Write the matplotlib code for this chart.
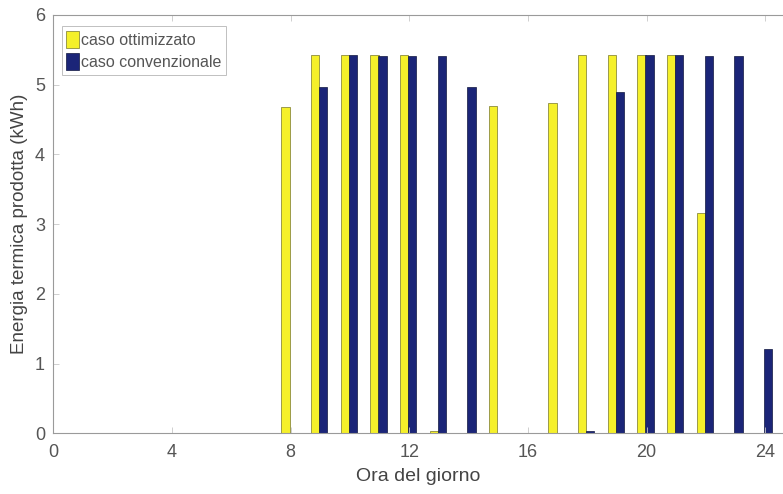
import numpy as np
import matplotlib.pyplot as plt

# --- dati ---
ore = list(range(1, 25))
ottimizzato = [0, 0, 0, 0, 0, 0, 0, 4.68, 5.42, 5.42, 5.42, 5.42, 0.03, 0, 4.69, 0,
               4.73, 5.42, 5.42, 5.42, 5.42, 3.16, 0, 0]
convenzionale = [0, 0, 0, 0, 0, 0, 0, 0, 4.96, 5.42, 5.41, 5.41, 5.41, 4.96, 0, 0,
                 0, 0.03, 4.89, 5.43, 5.42, 5.41, 5.41, 1.21]
xticks = [0, 4, 8, 12, 16, 20, 24]
yticks = [0, 1, 2, 3, 4, 5, 6]

plt.rcParams['font.family'] = ['Liberation Sans', 'DejaVu Sans']

fig = plt.figure(figsize=(7.83, 4.94), dpi=100)
ax = fig.add_axes([0.068, 0.123, 0.932, 0.847])

x = np.array(ore)
w = 0.29
ax.bar(x - 0.17, ottimizzato, width=w, color='#f5f02a', edgecolor='#77762a',
       linewidth=0.5, label='caso ottimizzato')
ax.bar(x + 0.10, convenzionale, width=w, color='#1b2578', edgecolor='#10163f',
       linewidth=0.5, label='caso convenzionale')

ax.set_xlim(0, 24.6)
ax.set_ylim(0, 6)
ax.set_xticks(xticks)
ax.set_yticks(yticks)
ax.tick_params(direction='in', length=4, width=0.6, colors='#c8c8c8',
               labelcolor='#555555', labelsize=13, top=True, right=False)
ax.tick_params(axis='x', pad=8)
ax.tick_params(axis='y', pad=6)
ax.spines['right'].set_visible(False)
for s in ['left', 'bottom', 'top']:
    ax.spines[s].set_color('#9a9a9a')
    ax.spines[s].set_linewidth(0.8)

ax.set_xlabel('Ora del giorno', fontsize=14, color='#444444', labelpad=5)
ax.set_ylabel('Energia termica prodotta (kWh)', fontsize=13.5, color='#444444', labelpad=5)

leg = ax.legend(loc='upper left', bbox_to_anchor=(0.005, 0.985), fontsize=11.5,
                frameon=True, fancybox=False, edgecolor='#b0b0b0',
                handlelength=0.8, handleheight=1.3, handletextpad=0.1,
                borderpad=0.3, labelspacing=0.3, borderaxespad=0.3)
leg.get_frame().set_linewidth(0.7)
for t in leg.get_texts():
    t.set_color('#555555')

fig.savefig('out.png', dpi=100)
